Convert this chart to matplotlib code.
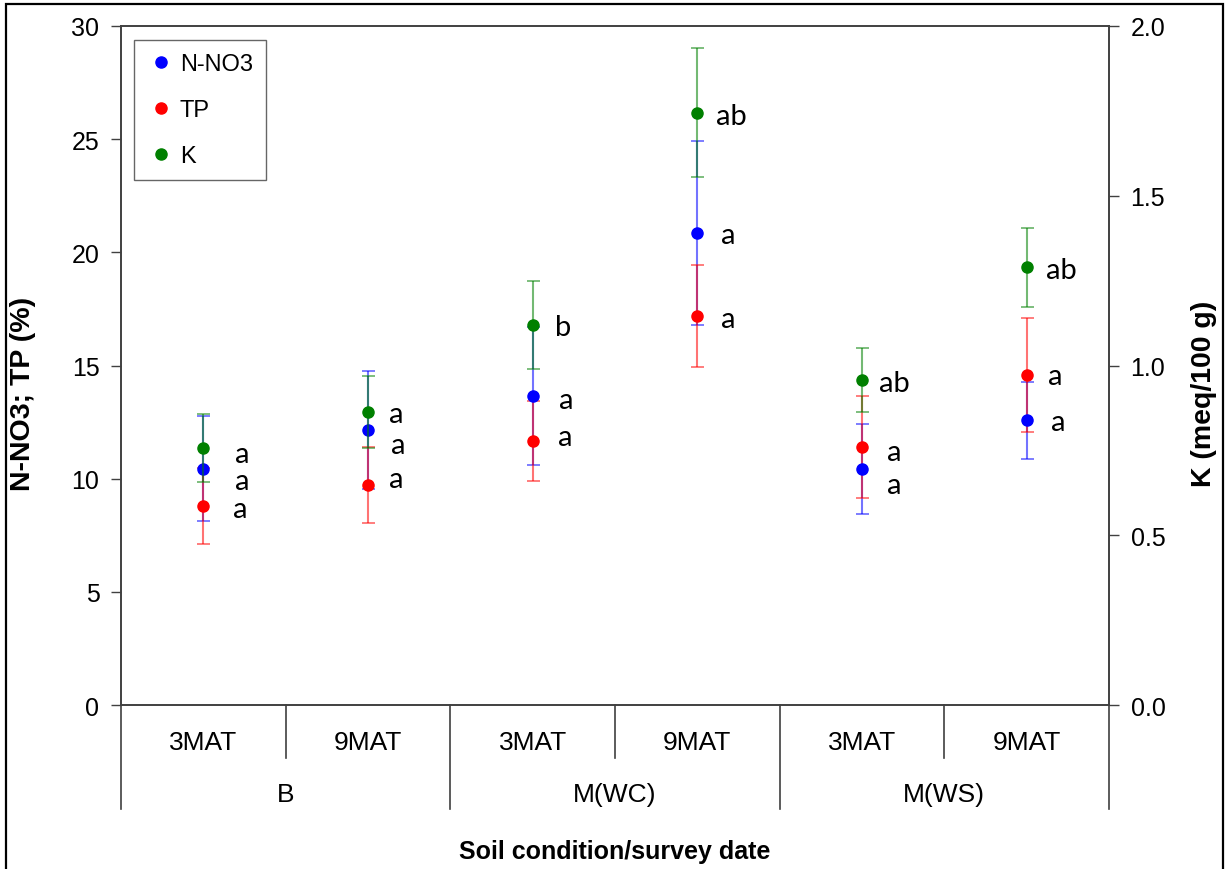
import matplotlib
matplotlib.use("Agg")
import matplotlib.pyplot as plt
import matplotlib.transforms as mtransforms
from matplotlib.patches import Rectangle
from matplotlib.lines import Line2D
import numpy as np

plt.rcParams['font.family'] = ['Liberation Sans', 'DejaVu Sans']

# data
sub_labels = ["3MAT", "9MAT", "3MAT", "9MAT", "3MAT", "9MAT"]
group_labels = ["B", "M(WC)", "M(WS)"]

no3 = [10.43, 12.15, 13.67, 20.84, 10.43, 12.59]
no3_err = [2.32, 2.62, 3.05, 4.06, 2.00, 1.70]
tp = [8.79, 9.72, 11.67, 17.18, 11.39, 14.60]
tp_err = [1.67, 1.68, 1.77, 2.26, 2.25, 2.52]
k = [0.757, 0.863, 1.119, 1.745, 0.958, 1.289]
k_err = [0.099, 0.107, 0.130, 0.190, 0.094, 0.117]

no3_letters = ["a", "a", "a", "a", "a", "a"]
tp_letters = ["a", "a", "a", "a", "a", "a"]
k_letters = ["a", "a", "b", "ab", "ab", "ab"]

# label nudges in pixels (dx right, dy down)
no3_off = [(32, 12), (23, 15), (26, 4), (24, 2), (25, 16), (24, 2)]
tp_off = [(30, 3), (21, -6), (25, -4), (24, 3), (25, 5), (21, 1)]
k_off = [(32, 6), (21, 2), (22, 2), (19, 3), (17, 3), (19, 3)]

BLUE = "#0000ff"
RED = "#ff0000"
GREEN = "#008000"
SPINE = "#404040"

x = np.arange(1, len(sub_labels) + 1)

fig = plt.figure(figsize=(12.29, 8.70), dpi=100)
fig.subplots_adjust(left=121 / 1229, right=1109 / 1229, top=1 - 27 / 870, bottom=1 - 706 / 870)
ax = fig.add_subplot(111)
ax2 = ax.twinx()

err_kw = dict(fmt="none", capsize=6.5 * 72 / 100, elinewidth=1.5, capthick=1.3, alpha=0.55)
ax.errorbar(x, no3, yerr=no3_err, ecolor=BLUE, **err_kw)
ax.errorbar(x, tp, yerr=tp_err, ecolor=RED, **err_kw)
ax2.errorbar(x, k, yerr=k_err, ecolor=GREEN, **err_kw)

ms = 8
ax.plot(x, no3, "o", color=BLUE, ms=ms, zorder=5)
ax.plot(x, tp, "o", color=RED, ms=ms, zorder=5)
ax2.plot(x, k, "o", color=GREEN, ms=ms, zorder=5)

px = 72 / 100


def put_letters(axis, vals, letters, offs):
    for xi, v, s, (dx, dy) in zip(x, vals, letters, offs):
        axis.annotate(s, (xi, v), xytext=(dx * px, -dy * px), textcoords="offset points",
                      ha="left", va="center", fontsize=21, family=["Lato", "DejaVu Sans"])


put_letters(ax, no3, no3_letters, no3_off)
put_letters(ax, tp, tp_letters, tp_off)
put_letters(ax2, k, k_letters, k_off)

ax.set_xlim(0.5, len(x) + 0.5)
ax.set_ylim(0, 30)
ax2.set_ylim(0, 2.0)
ax.set_yticks(np.arange(0, 31, 5))
ax2.set_yticks(np.arange(0, 2.01, 0.5))
ax2.set_yticklabels([f"{v:.1f}" for v in np.arange(0, 2.01, 0.5)])
ax.set_xticks([])

for a in (ax, ax2):
    a.tick_params(axis="y", direction="out", length=7, width=1, color=SPINE, labelsize=18, pad=8.5)
    for sp in a.spines.values():
        sp.set_color(SPINE)
        sp.set_linewidth(1.2)

ax.set_ylabel("N-NO3; TP (%)", fontsize=20.5, fontweight="bold")
ax.yaxis.set_label_coords(-0.086, 0.46)
ax2.set_ylabel("K (meq/100 g)", fontsize=20.5, fontweight="bold", rotation=90)
ax2.yaxis.set_label_coords(1.083, 0.459)

# hierarchical category axis below the plot
trans = mtransforms.blended_transform_factory(ax.transData, ax.transAxes)
for xb in [0.5, 2.5, 4.5, 6.5]:
    ax.plot([xb, xb], [0, -0.153], transform=trans, color=SPINE, lw=1.2, clip_on=False)
for xb in [1.5, 3.5, 5.5]:
    ax.plot([xb, xb], [0, -0.078], transform=trans, color=SPINE, lw=1.2, clip_on=False)
for xi, s in zip(x, sub_labels):
    ax.text(xi, -0.0545, s, transform=trans, ha="center", va="center", fontsize=19)
for gi, s in enumerate(group_labels):
    ax.text(1.5 + 2 * gi, -0.131, s, transform=trans, ha="center", va="center", fontsize=19)
ax.text(0.5, -0.215, "Soil condition/survey date", transform=ax.transAxes,
        ha="center", va="center", fontsize=18, fontweight="bold")

handles = [Line2D([], [], marker="o", ls="none", color=c, ms=ms) for c in (BLUE, RED, GREEN)]
leg = ax2.legend(handles, ["N-NO3", "TP", "K"], loc="upper left", bbox_to_anchor=(0.013, 0.979),
                 borderaxespad=0, fontsize=17, frameon=True, fancybox=False, edgecolor=SPINE,
                 handlelength=1.2, handletextpad=0.2, labelspacing=1.02, borderpad=0.55)
leg.get_frame().set_linewidth(1.0)
leg.set_zorder(10)

# outer frame of the picture
fig.add_artist(Rectangle((6 / 1229, -0.05), 1217 / 1229, 1.05 - 5 / 870, transform=fig.transFigure,
                         fill=False, edgecolor="black", lw=1.6))

fig.savefig("out.png", dpi=100)
